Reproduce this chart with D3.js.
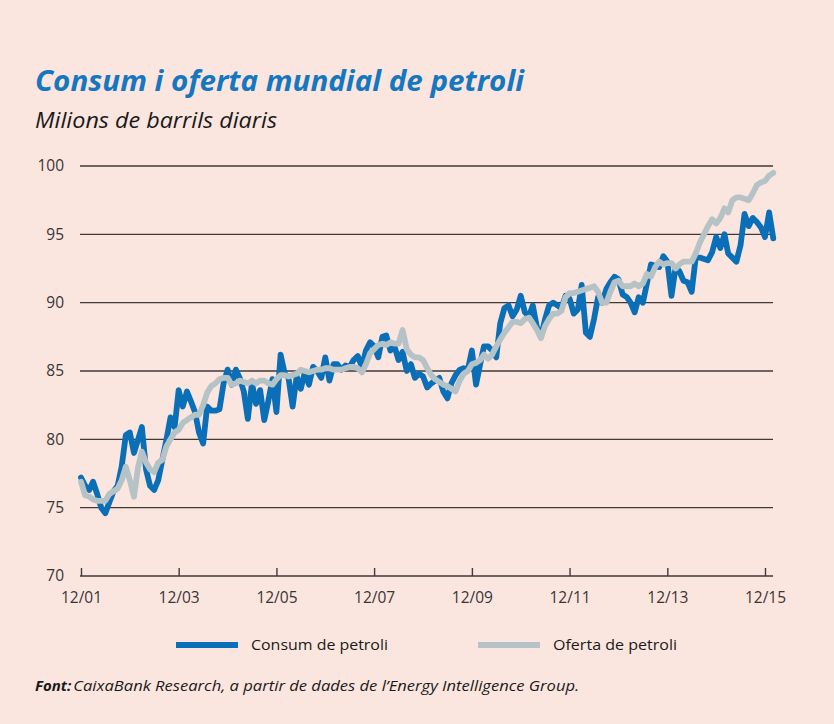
<!DOCTYPE html>
<html lang="ca">
<head>
    <meta charset="utf-8">
    <title>Consum i oferta mundial de petroli</title>
    <script src="https://d3js.org/d3.v7.min.js"></script>
    <style>
        body { margin: 0; background: #fbe6df; }
        svg { display: block; }
        text { font-family: "Open Sans", "Liberation Sans", sans-serif; }
    </style>
</head>
<body>
<svg id="g1"></svg>

<script>
    // monthly data, Dec 2001 -> Feb 2016 (million barrels per day)
    const startMonth = new Date(2001, 11, 1);

    const consum = [
        77.2, 76.6, 76.3, 76.9, 76.0, 75.0, 74.6, 75.4, 76.2, 76.6,
        78.0, 80.3, 80.5, 79.0, 80.0, 80.9, 77.8, 76.6, 76.3, 77.0,
        78.5, 80.0, 81.6, 80.9, 83.6, 82.4, 83.5, 82.8, 82.0, 80.5,
        79.7, 82.4, 82.1, 82.1, 82.2, 84.1, 85.1, 84.0, 85.1, 84.5,
        83.5, 81.5, 84.1, 82.6, 83.6, 81.4, 82.8, 84.4, 82.0, 86.2,
        84.8, 84.5, 82.4, 84.6, 83.7, 84.9, 84.0, 85.3, 85.0, 84.5,
        86.0, 84.3, 85.5, 85.5, 85.1, 85.4, 85.3, 85.8, 86.1, 85.3,
        86.5, 87.1, 86.8, 86.0, 87.5, 87.6, 86.5, 86.8, 85.8, 86.4,
        85.0, 85.5, 84.5, 84.8, 84.6, 83.8, 84.1, 84.3, 84.5, 83.5,
        83.0, 84.1, 84.7, 85.1, 85.2, 85.1, 86.5, 84.0, 85.5, 86.8,
        86.8, 86.5, 86.0, 88.5, 89.6, 89.8, 89.0, 89.5, 90.5, 89.3,
        89.0, 89.8, 88.2, 87.5, 88.8, 89.8, 90.0, 89.8, 89.6, 90.5,
        90.3, 89.2, 89.5, 91.3, 87.8, 87.5, 88.8, 90.4, 90.0, 91.0,
        91.5, 91.9, 91.7, 90.6, 90.4, 90.0, 89.3, 90.4, 90.0, 91.4,
        92.8, 92.7, 92.6, 93.4, 93.0, 90.5, 92.6, 92.3, 91.6, 91.5,
        90.8, 93.3, 93.3, 93.2, 93.1, 93.7, 94.8, 94.0, 95.0, 93.6,
        93.3, 93.0, 94.2, 96.5, 95.6, 96.2, 95.9, 95.5, 94.8, 96.6,
        94.7
    ];

    const oferta = [
        76.9, 75.9, 75.8, 75.6, 75.5, 75.5, 75.5, 76.0, 76.2, 76.4,
        77.0, 78.0, 77.0, 75.8, 78.0, 79.1, 78.3, 77.8, 77.6, 78.3,
        78.5, 79.5, 80.0, 80.5, 80.7, 81.2, 81.4, 81.6, 81.8, 81.8,
        82.5, 83.4, 83.9, 84.1, 84.4, 84.5, 84.5, 84.0, 84.1, 84.3,
        84.2, 84.1, 84.3, 84.1, 84.3, 84.3, 84.1, 84.0, 84.4, 84.7,
        84.7, 84.6, 84.7, 84.8, 85.1, 85.0, 84.9, 85.0, 85.1, 85.1,
        85.2, 85.2, 85.1, 85.1, 85.1, 85.2, 85.3, 85.3, 85.2, 84.9,
        85.5, 86.3, 86.6, 86.9, 87.0, 86.9, 87.1, 87.0, 87.0, 88.0,
        86.6, 86.2, 86.0, 86.0, 85.8, 85.2, 84.7, 84.4, 84.2, 84.0,
        83.9, 83.7, 83.5, 84.3, 84.8, 85.0, 85.5, 85.6, 85.8, 86.2,
        85.9, 86.2, 86.8, 87.3, 87.8, 88.2, 88.6, 88.6, 88.5, 88.8,
        88.9, 88.5, 88.0, 87.4, 88.3, 88.8, 89.2, 89.2, 89.4, 90.4,
        90.7, 90.7, 90.8, 90.9, 91.0, 91.1, 91.2, 90.8, 90.0, 90.0,
        90.8, 91.5, 91.6, 91.2, 91.2, 91.2, 91.4, 91.2, 91.4, 92.1,
        91.9, 92.6, 93.0, 92.8, 92.9, 92.9, 92.5, 92.8, 93.0, 93.0,
        93.0, 93.6, 94.4, 95.0, 95.6, 96.1, 95.8, 96.2, 96.9, 96.6,
        97.5, 97.7, 97.7, 97.6, 97.5, 98.0, 98.6, 98.8, 98.9, 99.3,
        99.5
    ];

    const yTicks = [70, 75, 80, 85, 90, 95, 100];
    const xTickYears = [2001, 2003, 2005, 2007, 2009, 2011, 2013, 2015];
    const seriesNames = ["Consum de petroli", "Oferta de petroli"];

    let width = 834,
        height = 724;

    let svg = d3.select("#g1")
        .attr("width", width)
        .attr("height", height);

    svg.append("rect")
        .attr("width", width).attr("height", height)
        .attr("fill", "#fbe6df");

    // titles
    svg.append("text")
        .attr("x", 35).attr("y", 91)
        .attr("font-size", 29).attr("font-weight", 700).attr("font-style", "italic")
        .attr("fill", "#1577c0")
        .attr("textLength", 489).attr("lengthAdjust", "spacingAndGlyphs")
        .text("Consum i oferta mundial de petroli");

    svg.append("text")
        .attr("x", 35).attr("y", 128)
        .attr("font-size", 21).attr("font-style", "italic")
        .attr("fill", "#1a1a1a")
        .attr("textLength", 242).attr("lengthAdjust", "spacingAndGlyphs")
        .text("Milions de barrils diaris");

    let x = d3.scaleTime()
        .domain([new Date(2001, 11, 1), new Date(2015, 11, 1)])
        .range([81, 765]);

    let y = d3.scaleLinear()
        .domain([70, 100])
        .range([576, 166]);

    const plotRight = 773;
    const axisColor = "#3f3a38";

    // grid
    let grid = svg.append("g").attr("id", "grid");
    grid.selectAll("line")
        .data(yTicks.filter(d => d > 70))
        .join("line")
            .attr("x1", 80).attr("x2", plotRight)
            .attr("y1", d => y(d)).attr("y2", d => y(d))
            .attr("stroke", axisColor).attr("stroke-width", 1.4);

    svg.append("g")
        .selectAll("text")
        .data(yTicks)
        .join("text")
            .attr("x", 64).attr("y", d => y(d))
            .attr("dy", "0.35em")
            .attr("text-anchor", "end")
            .attr("font-size", 15.5)
            .attr("fill", "#3a3535")
            .text(d => d);

    // x axis (ticks point up)
    let xAxis = d3.axisTop(x)
        .tickValues(xTickYears.map(yr => new Date(yr, 11, 1)))
        .tickFormat(d3.timeFormat("%m/%y"))
        .tickSize(8)
        .tickSizeOuter(0);

    let axisG = svg.append("g")
        .attr("transform", `translate(0,${y(70)})`)
        .call(xAxis);
    axisG.select(".domain").remove();
    axisG.append("line")
        .attr("x1", 80).attr("x2", plotRight)
        .attr("stroke", axisColor).attr("stroke-width", 1.4);
    axisG.selectAll(".tick line").attr("stroke", axisColor).attr("stroke-width", 1.4);
    axisG.selectAll(".tick text")
        .attr("y", 27).attr("dy", 0)
        .attr("font-size", 15.5)
        .attr("font-family", "'Open Sans', sans-serif")
        .attr("fill", "#3a3535");

    // lines
    let line = d3.line()
        .x((d, i) => x(d3.timeMonth.offset(startMonth, i)))
        .y(d => y(d));

    const colors = ["#0b6fb8", "#b5c3c7"];

    let chartArea = svg.append("g").attr("id", "lines");
    chartArea.selectAll("path")
        .data([consum, oferta])
        .join("path")
            .attr("d", line)
            .attr("fill", "none")
            .attr("stroke", (d, i) => colors[i])
            .attr("stroke-width", 5.8)
            .attr("stroke-linejoin", "round")
            .attr("stroke-linecap", "round");

    // legend
    const legendX = [176, 478];
    let legend = svg.append("g").attr("id", "legend");
    seriesNames.forEach((name, i) => {
        legend.append("line")
            .attr("x1", legendX[i]).attr("x2", legendX[i] + 62)
            .attr("y1", 645).attr("y2", 645)
            .attr("stroke", colors[i]).attr("stroke-width", 6);
        legend.append("text")
            .attr("x", legendX[i] + 75).attr("y", 645)
            .attr("dy", "0.35em")
            .attr("font-size", 15)
            .attr("fill", "#1a1a1a")
            .attr("textLength", i === 0 ? 137 : 124).attr("lengthAdjust", "spacingAndGlyphs")
            .text(name);
    });

    // source
    let src = svg.append("text")
        .attr("x", 35).attr("y", 691)
        .attr("font-size", 15).attr("font-style", "italic")
        .attr("fill", "#1a1a1a");
    src.append("tspan").attr("font-weight", 700).text("Font:");
    src.append("tspan")
        .attr("dx", 2)
        .attr("textLength", 506).attr("lengthAdjust", "spacingAndGlyphs")
        .text("CaixaBank Research, a partir de dades de l\u2019Energy Intelligence Group.");
</script>
</body>
</html>
